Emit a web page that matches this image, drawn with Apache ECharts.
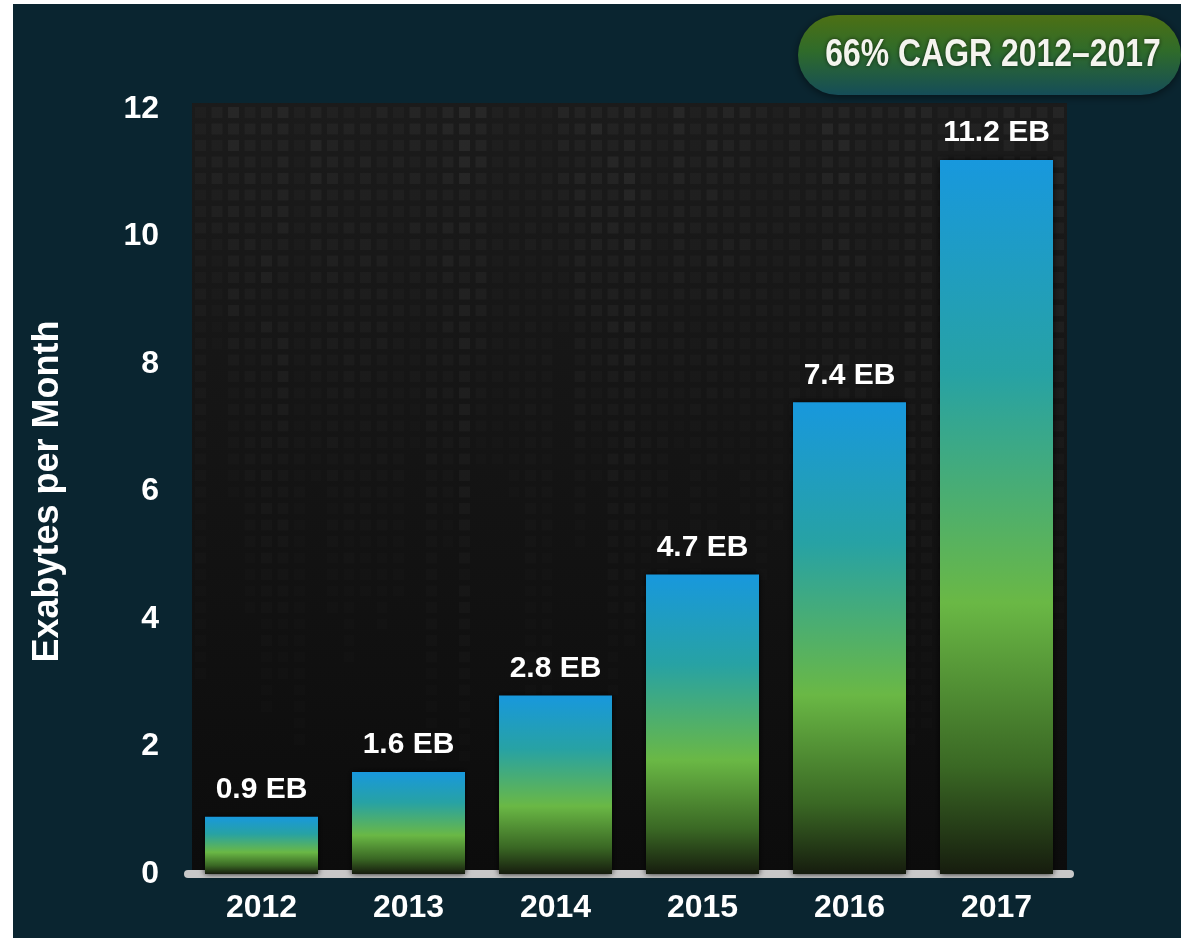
<!DOCTYPE html>
<html>
<head>
<meta charset="utf-8">
<script src="https://cdn.jsdelivr.net/npm/echarts@6/dist/echarts.min.js"></script>
<style>
html,body{margin:0;padding:0;background:#fff;overflow:hidden;}
#chart{position:absolute;left:13px;top:4px;width:1168px;height:934px;}
</style>
</head>
<body>
<div id="chart"></div>
<script>
const years = ['2012', '2013', '2014', '2015', '2016', '2017'];
const traffic = [0.9, 1.6, 2.8, 4.7, 7.4, 11.2];
const yTicks = [0, 2, 4, 6, 8, 10, 12];
const yName = 'Exabytes per Month';
const badgeText = '66% CAGR 2012–2017';

const font = "'Liberation Sans', Arial, Helvetica, sans-serif";

function hash(n) {
    const x = Math.sin(n * 12.9898 + 78.233) * 43758.5453;
    return x - Math.floor(x);
}

// dark panel behind the bars, with the faint square texture
function makePanel(w, h) {
    const c = document.createElement('canvas');
    c.width = w; c.height = h;
    const ctx = c.getContext('2d');
    const g = ctx.createLinearGradient(0, 0, 0, h);
    g.addColorStop(0, '#1b1b1b');
    g.addColorStop(1, '#0c0c0c');
    ctx.fillStyle = g;
    ctx.fillRect(0, 0, w, h);
    const pitch = 16.5, sz = 11;
    for (let col = 0; col * pitch < w; col++) {
        const s = 0.2 + 0.8 * hash(col * 7.1);
        const len = h * (0.3 + 0.6 * hash(col * 3.3 + 1));
        for (let row = 0; row * pitch < h; row++) {
            const y = row * pitch + 4;
            if (y > len) break;
            const fade = 1 - y / len;
            const a = 0.01 + 0.06 * fade * s * (0.4 + 0.6 * hash(col * 13 + row * 7));
            ctx.fillStyle = 'rgba(255,255,255,' + a.toFixed(3) + ')';
            ctx.fillRect(col * pitch + 3, y, sz, sz);
        }
    }
    return c;
}

const chart = echarts.init(document.getElementById('chart'));
chart.setOption({
    backgroundColor: '#0a2530',
    animation: false,
    grid: {left: 175, right: 111, top: 105, bottom: 64},
    graphic: [
        {
            type: 'image',
            z: -10,
            left: 179, top: 99,
            style: {image: makePanel(875, 767), width: 875, height: 767}
        },
        {
            type: 'group',
            left: 785, top: 11,
            children: [
                {
                    type: 'rect',
                    shape: {x: 0, y: 0, width: 383, height: 80, r: 40},
                    style: {
                        fill: new echarts.graphic.LinearGradient(0, 0, 0, 1, [
                            {offset: 0, color: '#4d7014'},
                            {offset: 0.45, color: '#2f6b2a'},
                            {offset: 1, color: '#154d58'}
                        ]),
                        shadowBlur: 8,
                        shadowOffsetY: 2,
                        shadowColor: 'rgba(0,0,0,0.5)'
                    }
                },
                {
                    type: 'text',
                    x: 195, y: 41,
                    scaleX: 0.84,
                    style: {
                        text: badgeText,
                        fill: '#f4f4ee',
                        font: 'bold 38px ' + font,
                        align: 'center',
                        verticalAlign: 'middle',
                        textShadowColor: 'rgba(0,0,0,0.6)',
                        textShadowBlur: 4
                    }
                }
            ]
        }
    ],
    xAxis: {
        type: 'category',
        data: years,
        axisLine: {lineStyle: {color: '#c8c8c8', width: 8}},
        axisTick: {show: false},
        axisLabel: {
            color: '#fff',
            fontSize: 32,
            fontWeight: 'bold',
            fontFamily: font,
            margin: 18
        }
    },
    yAxis: {
        type: 'value',
        min: yTicks[0],
        max: yTicks[yTicks.length - 1],
        interval: yTicks[1] - yTicks[0],
        name: yName,
        nameLocation: 'middle',
        nameRotate: 90,
        nameGap: 122,
        nameTextStyle: {
            color: '#fff',
            fontSize: 36,
            fontWeight: 'bold',
            fontFamily: font
        },
        splitLine: {show: false},
        axisLine: {show: false},
        axisTick: {show: false},
        axisLabel: {
            color: '#fff',
            fontSize: 32,
            fontWeight: 'bold',
            fontFamily: font,
            margin: 29
        }
    },
    series: [{
        type: 'bar',
        data: traffic,
        barWidth: 113,
        itemStyle: {
            color: new echarts.graphic.LinearGradient(0, 0, 0, 1, [
                {offset: 0, color: '#1898dd'},
                {offset: 0.3, color: '#27a2a4'},
                {offset: 0.62, color: '#6ab845'},
                {offset: 0.85, color: '#3a6824'},
                {offset: 1, color: '#161c0e'}
            ]),
            shadowColor: 'rgba(0,0,0,0.85)',
            shadowBlur: 6
        },
        label: {
            show: true,
            position: 'top',
            distance: 12,
            formatter: '{c} EB',
            color: '#fff',
            fontSize: 30,
            fontWeight: 'bold',
            fontFamily: font
        }
    }]
});
</script>
</body>
</html>
